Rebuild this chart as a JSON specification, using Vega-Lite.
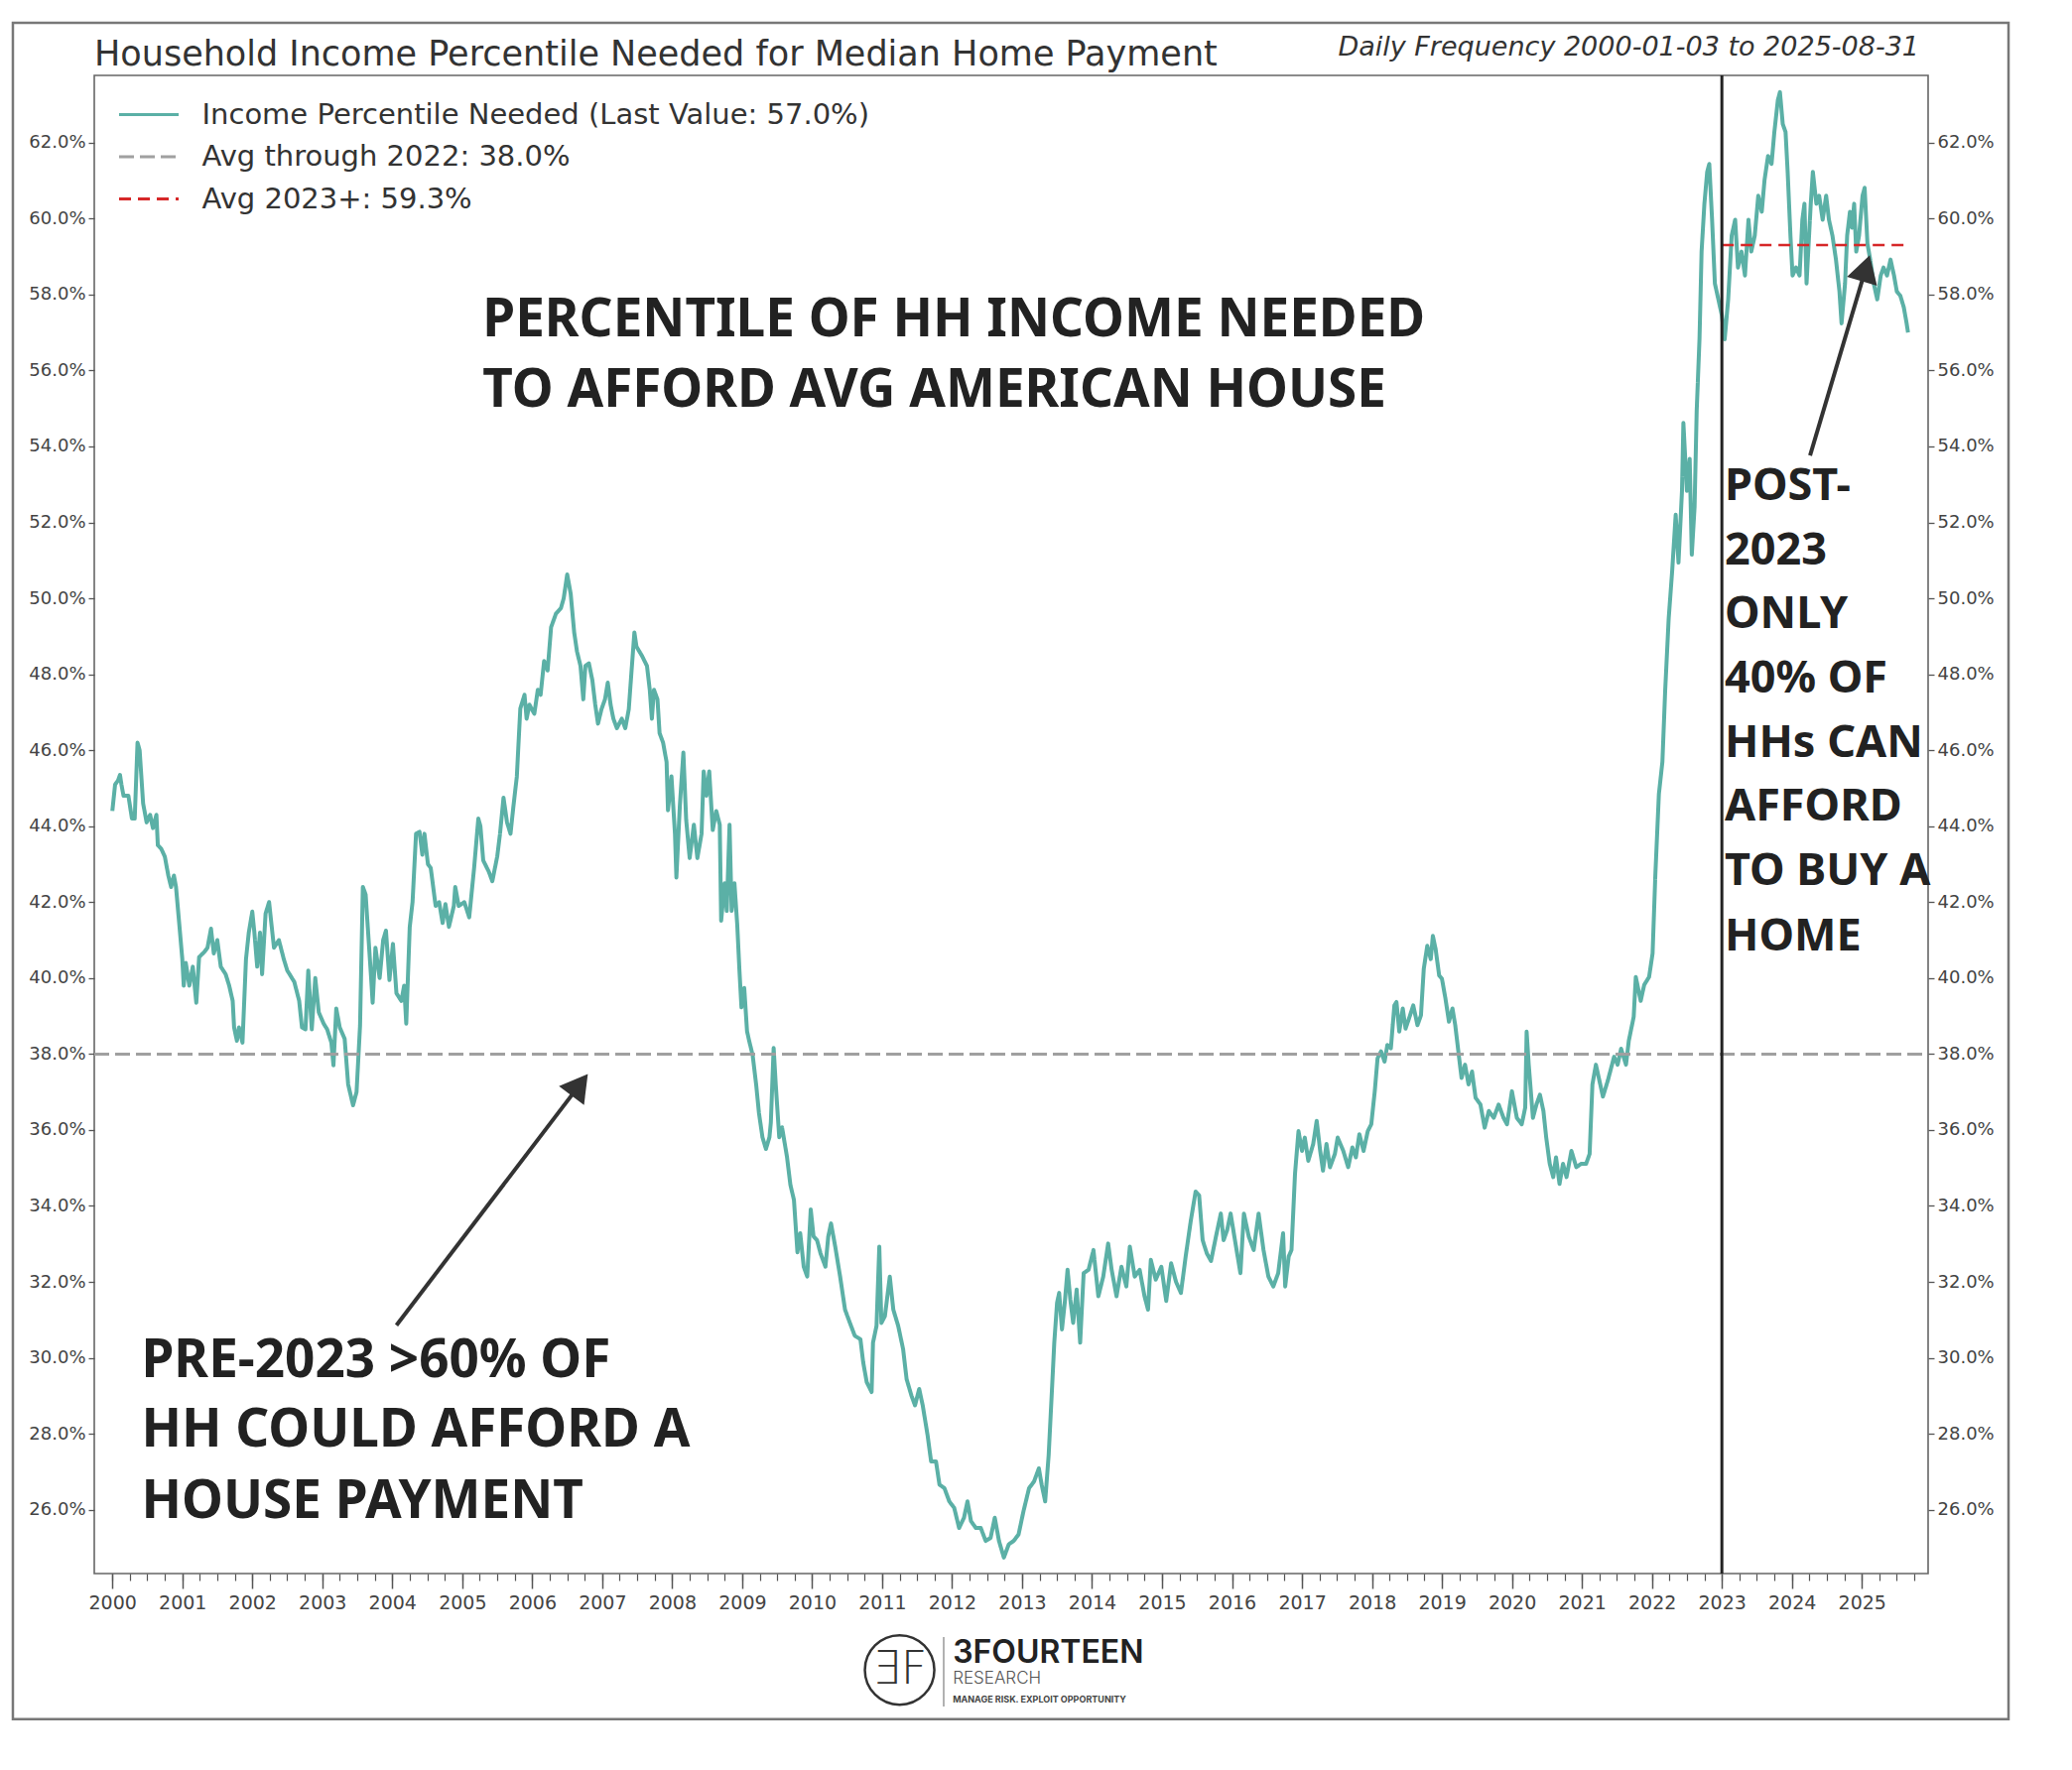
{
  "$schema": "https://vega.github.io/schema/vega-lite/v6.json",
  "description": "Household income percentile needed for the median home payment, 2000-2025",
  "autosize": {"type": "none"},
  "padding": {"left": 95, "top": 76, "right": 145, "bottom": 198},
  "width": 1848,
  "height": 1510,
  "background": "white",
  "title": {
    "text": "Household Income Percentile Needed for Median Home Payment",
    "anchor": "start",
    "frame": "group",
    "orient": "top",
    "font": "DejaVu Sans",
    "fontSize": 35,
    "fontWeight": "normal",
    "color": "#333333",
    "baseline": "alphabetic",
    "offset": -79,
    "dx": 0
  },
  "datasets": {
    "income": [
      {"year": 2000.00, "pct": 44.4}, {"year": 2000.04, "pct": 45.1}, {"year": 2000.08, "pct": 45.2}, {"year": 2000.11, "pct": 45.35},
      {"year": 2000.13, "pct": 45.1}, {"year": 2000.16, "pct": 44.8}, {"year": 2000.23, "pct": 44.8}, {"year": 2000.28, "pct": 44.2},
      {"year": 2000.32, "pct": 44.2}, {"year": 2000.36, "pct": 46.2}, {"year": 2000.39, "pct": 46.0}, {"year": 2000.44, "pct": 44.6},
      {"year": 2000.49, "pct": 44.1}, {"year": 2000.54, "pct": 44.3}, {"year": 2000.58, "pct": 43.95}, {"year": 2000.63, "pct": 44.3},
      {"year": 2000.65, "pct": 43.5}, {"year": 2000.70, "pct": 43.4}, {"year": 2000.75, "pct": 43.2}, {"year": 2000.80, "pct": 42.7},
      {"year": 2000.84, "pct": 42.4}, {"year": 2000.88, "pct": 42.7}, {"year": 2000.91, "pct": 42.4}, {"year": 2000.96, "pct": 41.35},
      {"year": 2001.00, "pct": 40.5}, {"year": 2001.02, "pct": 39.8}, {"year": 2001.05, "pct": 40.4}, {"year": 2001.10, "pct": 39.8},
      {"year": 2001.15, "pct": 40.3}, {"year": 2001.20, "pct": 39.35}, {"year": 2001.24, "pct": 40.55}, {"year": 2001.32, "pct": 40.7},
      {"year": 2001.36, "pct": 40.8}, {"year": 2001.41, "pct": 41.3}, {"year": 2001.45, "pct": 40.65}, {"year": 2001.50, "pct": 41.0},
      {"year": 2001.55, "pct": 40.3}, {"year": 2001.62, "pct": 40.1}, {"year": 2001.67, "pct": 39.8}, {"year": 2001.72, "pct": 39.4},
      {"year": 2001.74, "pct": 38.7}, {"year": 2001.78, "pct": 38.35}, {"year": 2001.81, "pct": 38.7}, {"year": 2001.86, "pct": 38.3},
      {"year": 2001.91, "pct": 40.5}, {"year": 2001.95, "pct": 41.2}, {"year": 2002.00, "pct": 41.75}, {"year": 2002.03, "pct": 41.2},
      {"year": 2002.07, "pct": 40.3}, {"year": 2002.11, "pct": 41.2}, {"year": 2002.14, "pct": 40.1}, {"year": 2002.19, "pct": 41.7},
      {"year": 2002.24, "pct": 42.0}, {"year": 2002.31, "pct": 40.8}, {"year": 2002.38, "pct": 41.0}, {"year": 2002.45, "pct": 40.5},
      {"year": 2002.50, "pct": 40.2}, {"year": 2002.60, "pct": 39.9}, {"year": 2002.67, "pct": 39.4}, {"year": 2002.71, "pct": 38.7},
      {"year": 2002.76, "pct": 38.65}, {"year": 2002.80, "pct": 40.2}, {"year": 2002.85, "pct": 38.65}, {"year": 2002.90, "pct": 40.0},
      {"year": 2002.95, "pct": 39.1}, {"year": 2003.02, "pct": 38.8}, {"year": 2003.07, "pct": 38.65}, {"year": 2003.13, "pct": 38.3},
      {"year": 2003.16, "pct": 37.7}, {"year": 2003.20, "pct": 39.2}, {"year": 2003.25, "pct": 38.7}, {"year": 2003.32, "pct": 38.4},
      {"year": 2003.37, "pct": 37.2}, {"year": 2003.44, "pct": 36.65}, {"year": 2003.49, "pct": 37.0}, {"year": 2003.54, "pct": 38.75},
      {"year": 2003.58, "pct": 42.4}, {"year": 2003.62, "pct": 42.2}, {"year": 2003.65, "pct": 41.35}, {"year": 2003.70, "pct": 39.95},
      {"year": 2003.72, "pct": 39.35}, {"year": 2003.76, "pct": 40.8}, {"year": 2003.82, "pct": 40.0}, {"year": 2003.87, "pct": 41.0},
      {"year": 2003.91, "pct": 41.25}, {"year": 2003.96, "pct": 39.95}, {"year": 2004.01, "pct": 40.9}, {"year": 2004.06, "pct": 39.6},
      {"year": 2004.13, "pct": 39.4}, {"year": 2004.17, "pct": 39.8}, {"year": 2004.20, "pct": 38.8}, {"year": 2004.25, "pct": 41.35},
      {"year": 2004.29, "pct": 42.0}, {"year": 2004.34, "pct": 43.8}, {"year": 2004.39, "pct": 43.85}, {"year": 2004.43, "pct": 43.25},
      {"year": 2004.46, "pct": 43.8}, {"year": 2004.51, "pct": 43.0}, {"year": 2004.55, "pct": 42.9}, {"year": 2004.62, "pct": 41.9},
      {"year": 2004.67, "pct": 42.0}, {"year": 2004.72, "pct": 41.45}, {"year": 2004.76, "pct": 41.95}, {"year": 2004.81, "pct": 41.35},
      {"year": 2004.88, "pct": 41.9}, {"year": 2004.90, "pct": 42.4}, {"year": 2004.95, "pct": 41.9}, {"year": 2005.03, "pct": 42.0},
      {"year": 2005.10, "pct": 41.6}, {"year": 2005.17, "pct": 42.9}, {"year": 2005.23, "pct": 44.2}, {"year": 2005.26, "pct": 44.0},
      {"year": 2005.30, "pct": 43.1}, {"year": 2005.38, "pct": 42.8}, {"year": 2005.43, "pct": 42.55}, {"year": 2005.50, "pct": 43.2},
      {"year": 2005.54, "pct": 43.8}, {"year": 2005.59, "pct": 44.75}, {"year": 2005.64, "pct": 44.1}, {"year": 2005.69, "pct": 43.8},
      {"year": 2005.73, "pct": 44.5}, {"year": 2005.78, "pct": 45.3}, {"year": 2005.83, "pct": 47.1}, {"year": 2005.89, "pct": 47.46},
      {"year": 2005.92, "pct": 46.83}, {"year": 2005.96, "pct": 47.2}, {"year": 2006.03, "pct": 46.96}, {"year": 2006.08, "pct": 47.59},
      {"year": 2006.12, "pct": 47.46}, {"year": 2006.17, "pct": 48.35}, {"year": 2006.22, "pct": 48.1}, {"year": 2006.27, "pct": 49.24},
      {"year": 2006.34, "pct": 49.6}, {"year": 2006.41, "pct": 49.74}, {"year": 2006.45, "pct": 50.0}, {"year": 2006.50, "pct": 50.63},
      {"year": 2006.55, "pct": 50.12}, {"year": 2006.60, "pct": 49.1}, {"year": 2006.64, "pct": 48.6}, {"year": 2006.69, "pct": 48.22},
      {"year": 2006.73, "pct": 47.34}, {"year": 2006.76, "pct": 48.22}, {"year": 2006.81, "pct": 48.29}, {"year": 2006.86, "pct": 47.84},
      {"year": 2006.90, "pct": 47.21}, {"year": 2006.94, "pct": 46.7}, {"year": 2006.99, "pct": 47.08}, {"year": 2007.04, "pct": 47.34},
      {"year": 2007.08, "pct": 47.78}, {"year": 2007.12, "pct": 47.2}, {"year": 2007.16, "pct": 46.83}, {"year": 2007.21, "pct": 46.58},
      {"year": 2007.28, "pct": 46.83}, {"year": 2007.33, "pct": 46.58}, {"year": 2007.38, "pct": 47.08}, {"year": 2007.42, "pct": 48.1},
      {"year": 2007.46, "pct": 49.1}, {"year": 2007.49, "pct": 48.73}, {"year": 2007.57, "pct": 48.48}, {"year": 2007.64, "pct": 48.22},
      {"year": 2007.68, "pct": 47.59}, {"year": 2007.71, "pct": 46.83}, {"year": 2007.74, "pct": 47.59}, {"year": 2007.79, "pct": 47.34},
      {"year": 2007.82, "pct": 46.45}, {"year": 2007.87, "pct": 46.2}, {"year": 2007.92, "pct": 45.69}, {"year": 2007.94, "pct": 44.42},
      {"year": 2007.99, "pct": 45.31}, {"year": 2008.04, "pct": 43.79}, {"year": 2008.06, "pct": 42.65}, {"year": 2008.11, "pct": 44.55},
      {"year": 2008.16, "pct": 45.94}, {"year": 2008.20, "pct": 44.17}, {"year": 2008.25, "pct": 43.16}, {"year": 2008.31, "pct": 44.04},
      {"year": 2008.36, "pct": 43.16}, {"year": 2008.42, "pct": 43.8}, {"year": 2008.45, "pct": 45.44}, {"year": 2008.49, "pct": 44.8},
      {"year": 2008.53, "pct": 45.44}, {"year": 2008.58, "pct": 43.9}, {"year": 2008.63, "pct": 44.4}, {"year": 2008.68, "pct": 44.04},
      {"year": 2008.70, "pct": 41.51}, {"year": 2008.75, "pct": 42.5}, {"year": 2008.78, "pct": 41.77}, {"year": 2008.82, "pct": 44.04},
      {"year": 2008.85, "pct": 41.77}, {"year": 2008.89, "pct": 42.5}, {"year": 2008.93, "pct": 41.4}, {"year": 2008.96, "pct": 40.25},
      {"year": 2008.99, "pct": 39.23}, {"year": 2009.03, "pct": 39.74}, {"year": 2009.07, "pct": 38.6}, {"year": 2009.10, "pct": 38.35},
      {"year": 2009.15, "pct": 37.97}, {"year": 2009.20, "pct": 37.2}, {"year": 2009.24, "pct": 36.45}, {"year": 2009.29, "pct": 35.81},
      {"year": 2009.34, "pct": 35.5}, {"year": 2009.39, "pct": 35.81}, {"year": 2009.41, "pct": 36.2}, {"year": 2009.45, "pct": 38.16},
      {"year": 2009.48, "pct": 37.2}, {"year": 2009.53, "pct": 35.81}, {"year": 2009.57, "pct": 36.07}, {"year": 2009.64, "pct": 35.3},
      {"year": 2009.69, "pct": 34.55}, {"year": 2009.74, "pct": 34.16}, {"year": 2009.79, "pct": 32.78}, {"year": 2009.83, "pct": 33.28},
      {"year": 2009.88, "pct": 32.4}, {"year": 2009.93, "pct": 32.14}, {"year": 2009.98, "pct": 33.91}, {"year": 2010.02, "pct": 33.2},
      {"year": 2010.07, "pct": 33.1}, {"year": 2010.12, "pct": 32.75}, {"year": 2010.19, "pct": 32.4}, {"year": 2010.23, "pct": 33.19},
      {"year": 2010.27, "pct": 33.54}, {"year": 2010.33, "pct": 32.93}, {"year": 2010.40, "pct": 32.14}, {"year": 2010.47, "pct": 31.27},
      {"year": 2010.54, "pct": 30.92}, {"year": 2010.61, "pct": 30.58}, {"year": 2010.69, "pct": 30.49}, {"year": 2010.73, "pct": 29.88},
      {"year": 2010.78, "pct": 29.36}, {"year": 2010.85, "pct": 29.1}, {"year": 2010.87, "pct": 30.4}, {"year": 2010.92, "pct": 30.84},
      {"year": 2010.96, "pct": 32.93}, {"year": 2010.99, "pct": 30.92}, {"year": 2011.04, "pct": 31.1}, {"year": 2011.11, "pct": 32.14},
      {"year": 2011.16, "pct": 31.27}, {"year": 2011.23, "pct": 30.84}, {"year": 2011.30, "pct": 30.23}, {"year": 2011.35, "pct": 29.44},
      {"year": 2011.42, "pct": 29.0}, {"year": 2011.47, "pct": 28.75}, {"year": 2011.53, "pct": 29.18}, {"year": 2011.58, "pct": 28.75},
      {"year": 2011.65, "pct": 27.96}, {"year": 2011.70, "pct": 27.27}, {"year": 2011.77, "pct": 27.27}, {"year": 2011.82, "pct": 26.66},
      {"year": 2011.89, "pct": 26.57}, {"year": 2011.96, "pct": 26.22}, {"year": 2012.03, "pct": 26.05}, {"year": 2012.10, "pct": 25.52},
      {"year": 2012.17, "pct": 25.79}, {"year": 2012.22, "pct": 26.22}, {"year": 2012.27, "pct": 25.7}, {"year": 2012.34, "pct": 25.52},
      {"year": 2012.41, "pct": 25.52}, {"year": 2012.48, "pct": 25.18}, {"year": 2012.55, "pct": 25.26}, {"year": 2012.61, "pct": 25.79},
      {"year": 2012.67, "pct": 25.18}, {"year": 2012.74, "pct": 24.74}, {"year": 2012.81, "pct": 25.09}, {"year": 2012.88, "pct": 25.18},
      {"year": 2012.95, "pct": 25.35}, {"year": 2013.02, "pct": 25.96}, {"year": 2013.10, "pct": 26.57}, {"year": 2013.17, "pct": 26.74},
      {"year": 2013.24, "pct": 27.09}, {"year": 2013.28, "pct": 26.66}, {"year": 2013.33, "pct": 26.22}, {"year": 2013.38, "pct": 27.44},
      {"year": 2013.43, "pct": 29.27}, {"year": 2013.46, "pct": 30.4}, {"year": 2013.50, "pct": 31.45}, {"year": 2013.53, "pct": 31.71},
      {"year": 2013.57, "pct": 30.75}, {"year": 2013.61, "pct": 31.45}, {"year": 2013.65, "pct": 32.32}, {"year": 2013.69, "pct": 31.53},
      {"year": 2013.73, "pct": 30.92}, {"year": 2013.78, "pct": 31.8}, {"year": 2013.83, "pct": 30.4}, {"year": 2013.88, "pct": 32.23},
      {"year": 2013.95, "pct": 32.32}, {"year": 2014.02, "pct": 32.84}, {"year": 2014.09, "pct": 31.62}, {"year": 2014.16, "pct": 32.14},
      {"year": 2014.23, "pct": 33.01}, {"year": 2014.28, "pct": 32.32}, {"year": 2014.35, "pct": 31.62}, {"year": 2014.42, "pct": 32.4},
      {"year": 2014.49, "pct": 31.88}, {"year": 2014.54, "pct": 32.93}, {"year": 2014.61, "pct": 32.14}, {"year": 2014.68, "pct": 32.32},
      {"year": 2014.75, "pct": 31.62}, {"year": 2014.80, "pct": 31.27}, {"year": 2014.84, "pct": 32.58}, {"year": 2014.91, "pct": 32.06},
      {"year": 2014.99, "pct": 32.4}, {"year": 2015.06, "pct": 31.5}, {"year": 2015.13, "pct": 32.49}, {"year": 2015.20, "pct": 32.0},
      {"year": 2015.27, "pct": 31.71}, {"year": 2015.34, "pct": 32.7}, {"year": 2015.41, "pct": 33.6}, {"year": 2015.48, "pct": 34.38},
      {"year": 2015.53, "pct": 34.28}, {"year": 2015.58, "pct": 33.1}, {"year": 2015.64, "pct": 32.75}, {"year": 2015.70, "pct": 32.55},
      {"year": 2015.77, "pct": 33.19}, {"year": 2015.84, "pct": 33.8}, {"year": 2015.88, "pct": 33.1}, {"year": 2015.93, "pct": 33.36},
      {"year": 2015.98, "pct": 33.8}, {"year": 2016.05, "pct": 33.01}, {"year": 2016.12, "pct": 32.23}, {"year": 2016.17, "pct": 33.8},
      {"year": 2016.24, "pct": 33.19}, {"year": 2016.31, "pct": 32.84}, {"year": 2016.38, "pct": 33.8}, {"year": 2016.45, "pct": 32.84},
      {"year": 2016.52, "pct": 32.14}, {"year": 2016.59, "pct": 31.88}, {"year": 2016.66, "pct": 32.23}, {"year": 2016.73, "pct": 33.28},
      {"year": 2016.76, "pct": 31.88}, {"year": 2016.81, "pct": 32.67}, {"year": 2016.85, "pct": 32.84}, {"year": 2016.90, "pct": 34.84},
      {"year": 2016.95, "pct": 35.97}, {"year": 2017.00, "pct": 35.45}, {"year": 2017.04, "pct": 35.8}, {"year": 2017.09, "pct": 35.19},
      {"year": 2017.16, "pct": 35.63}, {"year": 2017.21, "pct": 36.24}, {"year": 2017.26, "pct": 35.45}, {"year": 2017.30, "pct": 34.93},
      {"year": 2017.35, "pct": 35.63}, {"year": 2017.40, "pct": 35.02}, {"year": 2017.47, "pct": 35.37}, {"year": 2017.51, "pct": 35.8},
      {"year": 2017.59, "pct": 35.45}, {"year": 2017.66, "pct": 35.02}, {"year": 2017.72, "pct": 35.54}, {"year": 2017.77, "pct": 35.28},
      {"year": 2017.82, "pct": 35.89}, {"year": 2017.88, "pct": 35.45}, {"year": 2017.94, "pct": 35.97}, {"year": 2017.99, "pct": 36.15},
      {"year": 2018.04, "pct": 37.02}, {"year": 2018.08, "pct": 37.89}, {"year": 2018.13, "pct": 38.07}, {"year": 2018.18, "pct": 37.8},
      {"year": 2018.22, "pct": 38.24}, {"year": 2018.27, "pct": 38.15}, {"year": 2018.32, "pct": 39.28}, {"year": 2018.35, "pct": 39.37},
      {"year": 2018.39, "pct": 38.59}, {"year": 2018.44, "pct": 39.2}, {"year": 2018.48, "pct": 38.67}, {"year": 2018.53, "pct": 38.94},
      {"year": 2018.59, "pct": 39.28}, {"year": 2018.65, "pct": 38.76}, {"year": 2018.70, "pct": 39.02}, {"year": 2018.74, "pct": 40.24},
      {"year": 2018.79, "pct": 40.85}, {"year": 2018.84, "pct": 40.5}, {"year": 2018.87, "pct": 41.11}, {"year": 2018.91, "pct": 40.76},
      {"year": 2018.96, "pct": 40.07}, {"year": 2019.00, "pct": 39.98}, {"year": 2019.05, "pct": 39.46}, {"year": 2019.10, "pct": 38.85},
      {"year": 2019.15, "pct": 39.2}, {"year": 2019.19, "pct": 38.76}, {"year": 2019.24, "pct": 37.98}, {"year": 2019.28, "pct": 37.37},
      {"year": 2019.33, "pct": 37.72}, {"year": 2019.38, "pct": 37.2}, {"year": 2019.43, "pct": 37.54}, {"year": 2019.48, "pct": 36.85},
      {"year": 2019.55, "pct": 36.67}, {"year": 2019.61, "pct": 36.06}, {"year": 2019.67, "pct": 36.5}, {"year": 2019.74, "pct": 36.32},
      {"year": 2019.81, "pct": 36.67}, {"year": 2019.88, "pct": 36.32}, {"year": 2019.93, "pct": 36.15}, {"year": 2020.00, "pct": 37.02},
      {"year": 2020.07, "pct": 36.32}, {"year": 2020.14, "pct": 36.15}, {"year": 2020.19, "pct": 36.59}, {"year": 2020.21, "pct": 38.59},
      {"year": 2020.24, "pct": 37.72}, {"year": 2020.30, "pct": 36.32}, {"year": 2020.35, "pct": 36.67}, {"year": 2020.40, "pct": 36.93},
      {"year": 2020.45, "pct": 36.5}, {"year": 2020.49, "pct": 35.8}, {"year": 2020.54, "pct": 35.11}, {"year": 2020.59, "pct": 34.76},
      {"year": 2020.63, "pct": 35.28}, {"year": 2020.68, "pct": 34.58}, {"year": 2020.73, "pct": 35.11}, {"year": 2020.78, "pct": 34.76},
      {"year": 2020.85, "pct": 35.45}, {"year": 2020.92, "pct": 35.02}, {"year": 2020.99, "pct": 35.11}, {"year": 2021.06, "pct": 35.11},
      {"year": 2021.11, "pct": 35.37}, {"year": 2021.15, "pct": 37.2}, {"year": 2021.20, "pct": 37.72}, {"year": 2021.30, "pct": 36.88},
      {"year": 2021.37, "pct": 37.3}, {"year": 2021.46, "pct": 37.93}, {"year": 2021.51, "pct": 37.72}, {"year": 2021.56, "pct": 38.14},
      {"year": 2021.63, "pct": 37.72}, {"year": 2021.67, "pct": 38.35}, {"year": 2021.74, "pct": 38.98}, {"year": 2021.77, "pct": 40.03},
      {"year": 2021.84, "pct": 39.4}, {"year": 2021.89, "pct": 39.82}, {"year": 2021.96, "pct": 40.03}, {"year": 2022.01, "pct": 40.65},
      {"year": 2022.05, "pct": 42.75}, {"year": 2022.10, "pct": 44.85}, {"year": 2022.15, "pct": 45.69}, {"year": 2022.19, "pct": 47.58},
      {"year": 2022.24, "pct": 49.47}, {"year": 2022.29, "pct": 50.73}, {"year": 2022.34, "pct": 52.2}, {"year": 2022.38, "pct": 50.94},
      {"year": 2022.43, "pct": 52.83}, {"year": 2022.45, "pct": 54.62}, {"year": 2022.50, "pct": 52.83}, {"year": 2022.54, "pct": 53.67},
      {"year": 2022.57, "pct": 51.15}, {"year": 2022.61, "pct": 52.41}, {"year": 2022.64, "pct": 54.93}, {"year": 2022.68, "pct": 56.82},
      {"year": 2022.71, "pct": 59.13}, {"year": 2022.75, "pct": 60.39}, {"year": 2022.79, "pct": 61.23}, {"year": 2022.82, "pct": 61.44},
      {"year": 2022.86, "pct": 59.97}, {"year": 2022.88, "pct": 59.13}, {"year": 2022.90, "pct": 58.29}, {"year": 2022.95, "pct": 57.87},
      {"year": 2023.00, "pct": 57.45}, {"year": 2023.04, "pct": 56.82}, {"year": 2023.09, "pct": 57.87}, {"year": 2023.14, "pct": 59.55},
      {"year": 2023.19, "pct": 59.97}, {"year": 2023.23, "pct": 58.71}, {"year": 2023.28, "pct": 59.13}, {"year": 2023.33, "pct": 58.5},
      {"year": 2023.38, "pct": 59.97}, {"year": 2023.42, "pct": 59.13}, {"year": 2023.47, "pct": 59.55}, {"year": 2023.52, "pct": 60.6},
      {"year": 2023.57, "pct": 60.18}, {"year": 2023.61, "pct": 61.02}, {"year": 2023.66, "pct": 61.65}, {"year": 2023.71, "pct": 61.44},
      {"year": 2023.75, "pct": 62.28}, {"year": 2023.80, "pct": 63.12}, {"year": 2023.83, "pct": 63.33}, {"year": 2023.87, "pct": 62.49},
      {"year": 2023.91, "pct": 62.28}, {"year": 2023.94, "pct": 61.23}, {"year": 2023.98, "pct": 59.55}, {"year": 2024.01, "pct": 58.5},
      {"year": 2024.06, "pct": 58.71}, {"year": 2024.11, "pct": 58.5}, {"year": 2024.15, "pct": 59.97}, {"year": 2024.18, "pct": 60.39},
      {"year": 2024.21, "pct": 58.29}, {"year": 2024.27, "pct": 60.39}, {"year": 2024.30, "pct": 61.23}, {"year": 2024.35, "pct": 60.39},
      {"year": 2024.39, "pct": 60.6}, {"year": 2024.44, "pct": 59.97}, {"year": 2024.49, "pct": 60.6}, {"year": 2024.53, "pct": 59.97},
      {"year": 2024.58, "pct": 59.55}, {"year": 2024.63, "pct": 58.92}, {"year": 2024.68, "pct": 58.08}, {"year": 2024.71, "pct": 57.24},
      {"year": 2024.76, "pct": 58.29}, {"year": 2024.79, "pct": 59.55}, {"year": 2024.83, "pct": 60.18}, {"year": 2024.86, "pct": 59.76},
      {"year": 2024.89, "pct": 60.39}, {"year": 2024.92, "pct": 59.13}, {"year": 2024.96, "pct": 59.55}, {"year": 2025.01, "pct": 60.6},
      {"year": 2025.04, "pct": 60.81}, {"year": 2025.08, "pct": 59.34}, {"year": 2025.12, "pct": 58.92}, {"year": 2025.17, "pct": 58.29},
      {"year": 2025.22, "pct": 57.87}, {"year": 2025.27, "pct": 58.5}, {"year": 2025.31, "pct": 58.71}, {"year": 2025.36, "pct": 58.5},
      {"year": 2025.41, "pct": 58.92}, {"year": 2025.46, "pct": 58.5}, {"year": 2025.50, "pct": 58.08}, {"year": 2025.55, "pct": 57.97},
      {"year": 2025.60, "pct": 57.66}, {"year": 2025.64, "pct": 57.24}, {"year": 2025.66, "pct": 57.0}
    ],
    "avgPre": [{"year": 1999.742, "pct": 38.0}, {"year": 2025.947, "pct": 38.0}],
    "avgPost": [{"year": 2023.0, "pct": 59.3}, {"year": 2025.69, "pct": 59.3}],
    "split": [{"year": 2023.0}],
    "arrows": [
      {"year": 2004.06, "pct": 30.86, "year2": 2006.678, "pct2": 37.19},
      {"year": 2024.26, "pct": 53.76, "year2": 2025.057, "pct2": 58.69}
    ],
    "notesWide": [
      {"label": "PERCENTILE OF HH INCOME NEEDED", "year": 2005.29, "pct": 57.32},
      {"label": "TO AFFORD AVG AMERICAN HOUSE", "year": 2005.29, "pct": 55.47},
      {"label": "PRE-2023 >60% OF", "year": 2000.415, "pct": 29.92},
      {"label": "HH COULD AFFORD A", "year": 2000.415, "pct": 28.08},
      {"label": "HOUSE PAYMENT", "year": 2000.415, "pct": 26.21}
    ],
    "notesPost": [
      {"label": "POST-", "year": 2023.04, "pct": 52.96},
      {"label": "2023", "year": 2023.04, "pct": 51.26},
      {"label": "ONLY", "year": 2023.04, "pct": 49.59},
      {"label": "40% OF", "year": 2023.04, "pct": 47.89},
      {"label": "HHs CAN", "year": 2023.04, "pct": 46.19},
      {"label": "AFFORD", "year": 2023.04, "pct": 44.52},
      {"label": "TO BUY A", "year": 2023.04, "pct": 42.82},
      {"label": "HOME", "year": 2023.04, "pct": 41.1}
    ]
  },
  "encoding": {
    "x": {"field": "year", "type": "quantitative", "scale": {"domain": [1999.742, 2025.947], "nice": false, "zero": false}},
    "y": {"field": "pct", "type": "quantitative", "scale": {"domain": [24.32, 63.77], "nice": false, "zero": false}}
  },
  "layer": [
    {
      "data": {"name": "income"},
      "mark": {"type": "line", "strokeWidth": 4, "strokeJoin": "round"},
      "encoding": {
        "x": {
          "field": "year", "type": "quantitative",
          "axis": {
            "orient": "bottom", "title": null, "grid": false, "domain": false,
            "values": [2000, 2001, 2002, 2003, 2004, 2005, 2006, 2007, 2008, 2009, 2010, 2011, 2012, 2013, 2014, 2015, 2016, 2017, 2018, 2019, 2020, 2021, 2022, 2023, 2024, 2025],
            "format": "d", "tickSize": 15, "tickWidth": 1.5, "tickColor": "#555555",
            "labelFont": "DejaVu Sans", "labelFontSize": 19, "labelColor": "#444444", "labelPadding": 5
          }
        },
        "y": {
          "field": "pct", "type": "quantitative",
          "axis": {
            "orient": "left", "title": null, "grid": false, "domain": false,
            "values": [26, 28, 30, 32, 34, 36, 38, 40, 42, 44, 46, 48, 50, 52, 54, 56, 58, 60, 62],
            "labelExpr": "format(datum.value, '.1f') + '%'",
            "tickSize": 6, "tickWidth": 1.3, "tickColor": "#555555",
            "labelFont": "DejaVu Sans", "labelFontSize": 18, "labelColor": "#444444", "labelPadding": 3
          }
        },
        "color": {
          "datum": "Income Percentile Needed (Last Value: 57.0%)",
          "type": "nominal",
          "title": null,
          "scale": {
            "domain": ["Income Percentile Needed (Last Value: 57.0%)", "Avg through 2022: 38.0%", "Avg 2023+: 59.3%"],
            "range": ["#5bb0a6", "#a0a0a0", "#d62728"]
          },
          "legend": {
            "orient": "none", "legendX": 33.5, "legendY": 18, "padding": 0,
            "symbolType": "M-1.5,0H1.5", "symbolSize": 1600, "symbolStrokeWidth": 3,
            "labelFont": "DejaVu Sans", "labelFontSize": 29, "labelColor": "#333333",
            "labelOffset": 32, "rowPadding": 5.5, "labelLimit": 0
          }
        },
        "strokeDash": {
          "datum": "Income Percentile Needed (Last Value: 57.0%)",
          "type": "nominal",
          "title": null,
          "scale": {
            "domain": ["Income Percentile Needed (Last Value: 57.0%)", "Avg through 2022: 38.0%", "Avg 2023+: 59.3%"],
            "range": [[1, 0], [15, 6], [12, 7]]
          }
        }
      }
    },
    {
      "data": {"name": "avgPre"},
      "mark": {"type": "line", "strokeWidth": 3},
      "encoding": {
        "x": {
          "field": "year", "type": "quantitative",
          "axis": {
            "orient": "bottom", "title": null, "grid": false, "domain": false, "labels": false,
            "values": [2000, 2000.25, 2000.5, 2000.75, 2001, 2001.25, 2001.5, 2001.75, 2002, 2002.25, 2002.5, 2002.75, 2003, 2003.25, 2003.5, 2003.75, 2004, 2004.25, 2004.5, 2004.75, 2005, 2005.25, 2005.5, 2005.75, 2006, 2006.25, 2006.5, 2006.75, 2007, 2007.25, 2007.5, 2007.75, 2008, 2008.25, 2008.5, 2008.75, 2009, 2009.25, 2009.5, 2009.75, 2010, 2010.25, 2010.5, 2010.75, 2011, 2011.25, 2011.5, 2011.75, 2012, 2012.25, 2012.5, 2012.75, 2013, 2013.25, 2013.5, 2013.75, 2014, 2014.25, 2014.5, 2014.75, 2015, 2015.25, 2015.5, 2015.75, 2016, 2016.25, 2016.5, 2016.75, 2017, 2017.25, 2017.5, 2017.75, 2018, 2018.25, 2018.5, 2018.75, 2019, 2019.25, 2019.5, 2019.75, 2020, 2020.25, 2020.5, 2020.75, 2021, 2021.25, 2021.5, 2021.75, 2022, 2022.25, 2022.5, 2022.75, 2023, 2023.25, 2023.5, 2023.75, 2024, 2024.25, 2024.5, 2024.75, 2025, 2025.25, 2025.5, 2025.75],
            "tickSize": 7, "tickWidth": 1.2, "tickColor": "#555555"
          }
        },
        "y": {
          "field": "pct", "type": "quantitative",
          "axis": {
            "orient": "right", "title": null, "grid": false, "domain": false,
            "values": [26, 28, 30, 32, 34, 36, 38, 40, 42, 44, 46, 48, 50, 52, 54, 56, 58, 60, 62],
            "labelExpr": "format(datum.value, '.1f') + '%'",
            "tickSize": 6, "tickWidth": 1.3, "tickColor": "#555555",
            "labelFont": "DejaVu Sans", "labelFontSize": 18, "labelColor": "#444444", "labelPadding": 3
          }
        },
        "color": {"datum": "Avg through 2022: 38.0%", "type": "nominal", "title": null},
        "strokeDash": {"datum": "Avg through 2022: 38.0%", "type": "nominal", "title": null}
      }
    },
    {
      "data": {"name": "avgPost"},
      "mark": {"type": "line", "strokeWidth": 2.5},
      "encoding": {
        "x": {"field": "year", "type": "quantitative", "axis": null},
        "y": {"field": "pct", "type": "quantitative", "axis": null},
        "color": {"datum": "Avg 2023+: 59.3%", "type": "nominal", "title": null},
        "strokeDash": {"datum": "Avg 2023+: 59.3%", "type": "nominal", "title": null}
      }
    },
    {
      "data": {"name": "split"},
      "mark": {"type": "rule", "color": "#222222", "strokeWidth": 3},
      "encoding": {
        "x": {"field": "year", "type": "quantitative", "axis": null},
        "y": null
      }
    },
    {
      "data": {"name": "arrows"},
      "mark": {"type": "rule", "color": "#333333", "strokeWidth": 4},
      "encoding": {
        "x": {"field": "year", "type": "quantitative", "axis": null},
        "y": {"field": "pct", "type": "quantitative", "axis": null},
        "x2": {"field": "year2"},
        "y2": {"field": "pct2"}
      }
    },
    {
      "data": {"values": [{"year": 2006.678, "pct": 37.19}]},
      "mark": {"type": "point", "shape": "triangle-up", "filled": true, "color": "#333333", "opacity": 1, "size": 1000, "angle": 37},
      "encoding": {
        "x": {"field": "year", "type": "quantitative", "axis": null},
        "y": {"field": "pct", "type": "quantitative", "axis": null}
      }
    },
    {
      "data": {"values": [{"year": 2025.057, "pct": 58.69}]},
      "mark": {"type": "point", "shape": "triangle-up", "filled": true, "color": "#333333", "opacity": 1, "size": 1000, "angle": 16.5},
      "encoding": {
        "x": {"field": "year", "type": "quantitative", "axis": null},
        "y": {"field": "pct", "type": "quantitative", "axis": null}
      }
    },
    {
      "data": {"name": "notesWide"},
      "mark": {"type": "text", "align": "left", "baseline": "middle", "font": "Noto Sans", "fontWeight": "bold", "fontSize": 53, "color": "#222222"},
      "encoding": {
        "x": {"field": "year", "type": "quantitative", "axis": null},
        "y": {"field": "pct", "type": "quantitative", "axis": null},
        "text": {"field": "label"}
      }
    },
    {
      "data": {"name": "notesPost"},
      "mark": {"type": "text", "align": "left", "baseline": "middle", "font": "Noto Sans", "fontWeight": "bold", "fontSize": 45, "color": "#222222"},
      "encoding": {
        "x": {"field": "year", "type": "quantitative", "axis": null},
        "y": {"field": "pct", "type": "quantitative", "axis": null},
        "text": {"field": "label"}
      }
    },
    {
      "data": {"values": [{"label": "Daily Frequency 2000-01-03 to 2025-08-31", "year": 2025.82, "pct": 64.3}]},
      "mark": {"type": "text", "align": "right", "baseline": "alphabetic", "font": "DejaVu Sans", "fontStyle": "italic", "fontSize": 27, "color": "#333333"},
      "encoding": {
        "x": {"field": "year", "type": "quantitative", "axis": null},
        "y": {"field": "pct", "type": "quantitative", "axis": null},
        "text": {"field": "label"}
      }
    },
    {
      "data": {"values": [{"year": 1998.579, "pct": 65.156, "year2": 2027.096, "pct2": 20.485}]},
      "mark": {"type": "rect", "fillOpacity": 0, "stroke": "#777777", "strokeWidth": 2.5},
      "encoding": {
        "x": {"field": "year", "type": "quantitative", "axis": null},
        "y": {"field": "pct", "type": "quantitative", "axis": null},
        "x2": {"field": "year2"},
        "y2": {"field": "pct2"}
      }
    },
    {
      "data": {"values": [{"year": 2011.25, "pct": 21.78}]},
      "mark": {"type": "point", "shape": "circle", "filled": false, "color": "#333333", "opacity": 1, "strokeWidth": 2.5, "size": 4900},
      "encoding": {
        "x": {"field": "year", "type": "quantitative", "axis": null},
        "y": {"field": "pct", "type": "quantitative", "axis": null}
      }
    },
    {
      "data": {"values": [{"label": "ƎF", "year": 2011.25, "pct": 21.78}]},
      "mark": {"type": "text", "align": "center", "baseline": "middle", "font": "DejaVu Sans", "fontWeight": 200, "fontSize": 46, "color": "#333333"},
      "encoding": {
        "x": {"field": "year", "type": "quantitative", "axis": null},
        "y": {"field": "pct", "type": "quantitative", "axis": null},
        "text": {"field": "label"}
      }
    },
    {
      "data": {"values": [{"year": 2011.88, "pct": 22.65, "pct2": 20.82}]},
      "mark": {"type": "rule", "color": "#999999", "strokeWidth": 1.5},
      "encoding": {
        "x": {"field": "year", "type": "quantitative", "axis": null},
        "y": {"field": "pct", "type": "quantitative", "axis": null},
        "y2": {"field": "pct2"}
      }
    },
    {
      "data": {"values": [{"label": "3FOURTEEN", "year": 2012.01, "pct": 22.235}]},
      "mark": {"type": "text", "align": "left", "baseline": "middle", "font": "Inter", "fontWeight": 600, "fontSize": 32, "color": "#222222"},
      "encoding": {
        "x": {"field": "year", "type": "quantitative", "axis": null},
        "y": {"field": "pct", "type": "quantitative", "axis": null},
        "text": {"field": "label"}
      }
    },
    {
      "data": {"values": [{"label": "RESEARCH", "year": 2012.01, "pct": 21.545}]},
      "mark": {"type": "text", "align": "left", "baseline": "middle", "font": "Inter", "fontWeight": 300, "fontSize": 17, "color": "#555555"},
      "encoding": {
        "x": {"field": "year", "type": "quantitative", "axis": null},
        "y": {"field": "pct", "type": "quantitative", "axis": null},
        "text": {"field": "label"}
      }
    },
    {
      "data": {"values": [{"label": "MANAGE RISK. EXPLOIT OPPORTUNITY", "year": 2012.01, "pct": 21.0}]},
      "mark": {"type": "text", "align": "left", "baseline": "middle", "font": "Inter", "fontWeight": "bold", "fontSize": 9, "color": "#444444"},
      "encoding": {
        "x": {"field": "year", "type": "quantitative", "axis": null},
        "y": {"field": "pct", "type": "quantitative", "axis": null},
        "text": {"field": "label"}
      }
    }
  ],
  "resolve": {"axis": {"x": "independent", "y": "independent"}},
  "config": {
    "view": {"stroke": "#666666", "strokeWidth": 1.6},
    "font": "DejaVu Sans",
    "axis": {"grid": false}
  }
}
